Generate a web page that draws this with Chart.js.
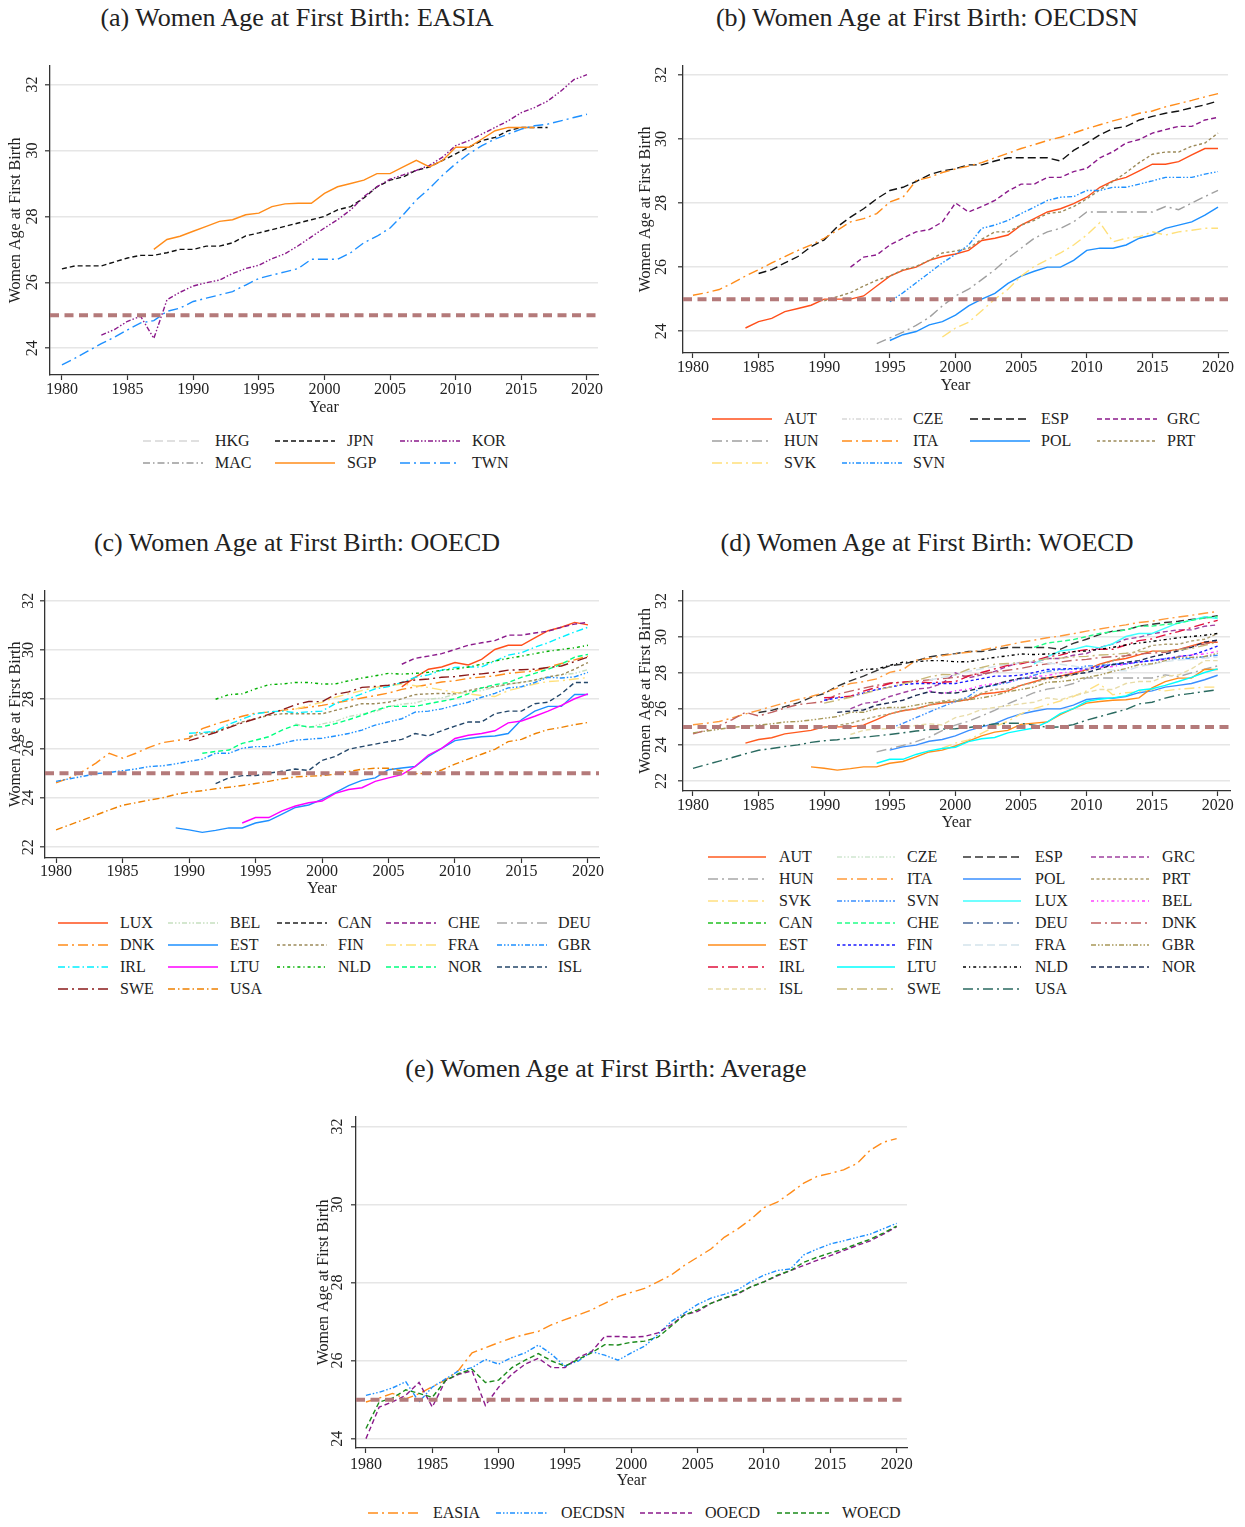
<!DOCTYPE html>
<html>
<head>
<meta charset="utf-8">
<script src="https://cdn.jsdelivr.net/npm/chart.js@4.4.0/dist/chart.umd.min.js"></script>
<style>
  body { margin: 0; background: #fff; width: 1245px; height: 1527px; position: relative; overflow: hidden;
         font-family: "Liberation Serif", "DejaVu Serif", serif; color: #222; }
  .ttl { position: absolute; font-size: 26px; line-height: 30px; white-space: nowrap; transform: translateX(-50%); }
  canvas { position: absolute; }
  .lgs { position: absolute; }
  .lgt { position: absolute; font-size: 16px; line-height: 18px; white-space: nowrap; }
</style>
</head>
<body>
<div class="ttl" style="left:297px;top:3px">(a) Women Age at First Birth: EASIA</div>
<div class="ttl" style="left:927px;top:3px">(b) Women Age at First Birth: OECDSN</div>
<div class="ttl" style="left:297px;top:528px">(c) Women Age at First Birth: OOECD</div>
<div class="ttl" style="left:927px;top:528px">(d) Women Age at First Birth: WOECD</div>
<div class="ttl" style="left:606px;top:1054px">(e) Women Age at First Birth: Average</div>

<script>
const _ = null;
const years = [1980,1981,1982,1983,1984,1985,1986,1987,1988,1989,1990,1991,1992,1993,1994,1995,1996,1997,1998,1999,
               2000,2001,2002,2003,2004,2005,2006,2007,2008,2009,2010,2011,2012,2013,2014,2015,2016,2017,2018,2019,2020];
const xTicks = [1980,1985,1990,1995,2000,2005,2010,2015,2020];
const yTicks = [24,26,28,30,32];
const yTicksWide = [22,24,26,28,30,32];
const refAge = 25;

// (a) East Asia
const hkg = [];
const mac = [];
const jpn = [26.41,26.5,26.5,26.5,26.62,26.74,26.82,26.82,26.9,27.0, 27.0,27.1,27.1,27.2,27.41,27.5,27.6,27.7,27.8,27.9,
             28.0,28.2,28.3,28.56,28.9,29.1,29.2,29.4,29.5,29.7, 29.9,30.1,30.3,30.4,30.6,30.7,30.7,30.7,_,_, _];
const sgp = [_,_,_,_,_,_,_,27.0,27.3,27.4, 27.55,27.7,27.85,27.9,28.05,28.1,28.3,28.38,28.4,28.4,
             28.7,28.9,29.0,29.1,29.3,29.3,29.5,29.7,29.5,29.7, 30.1,30.1,30.35,30.6,30.7,30.7,30.7,_,_,_, _];
const kor = [_,_,_,24.4,24.57,24.82,24.97,24.3,25.47,25.7, 25.89,25.99,26.07,26.27,26.42,26.52,26.72,26.87,27.11,27.38,
             27.65,27.9,28.2,28.6,28.9,29.13,29.26,29.4,29.55,29.8, 30.15,30.3,30.5,30.7,30.9,31.15,31.3,31.5,31.8,32.15, 32.3];
const twn = [23.5,23.7,23.92,24.14,24.34,24.56,24.77,24.84,25.12,25.22, 25.42,25.52,25.62,25.72,25.92,26.12,26.22,26.32,26.42,26.7,
             26.7,26.7,26.9,27.2,27.4,27.65,28.05,28.5,28.85,29.25, 29.6,29.9,30.15,30.35,30.5,30.65,30.75,30.8,30.9,31.0, 31.1];

// (b) OECD south / new
const aut = [_,_,_,_,24.1,24.3,24.4,24.61,24.71,24.81, 25.0,25.0,25.0,25.1,25.41,25.72,25.9,26.0,26.21,26.33,
             26.41,26.52,26.83,26.9,27.0,27.31,27.51,27.72,27.82,27.98, 28.18,28.49,28.69,28.8,29.0,29.21,29.21,29.29,29.5,29.7, 29.7];
const cze = [];
const esp = [_,_,_,_,_,25.8,25.92,26.13,26.33,26.64, 26.85,27.26,27.56,27.82,28.13,28.39,28.49,28.67,28.88,29.0,
             29.07,29.19,29.19,29.31,29.41,29.41,29.41,29.41,29.31,29.64, 29.87,30.13,30.32,30.39,30.59,30.7,30.8,30.87,30.97,31.06, 31.18];
const grc = [_,_,_,_,_,_,_,_,_,_, _,_,26.0,26.31,26.38,26.69,26.9,27.1,27.17,27.41,
             28.0,27.72,27.89,28.08,28.37,28.59,28.59,28.8,28.8,28.98, 29.08,29.41,29.6,29.87,29.98,30.18,30.29,30.39,30.39,30.59, 30.67];
const hun = [_,_,_,_,_,_,_,_,_,_, _,_,_,_,23.61,23.79,23.97,24.18,24.43,24.79,
             25.1,25.31,25.61,25.92,26.28,26.59,26.9,27.1,27.21,27.41, 27.72,27.72,27.72,27.72,27.72,27.72,27.89,27.79,28.0,28.2, 28.39];
const ita = [25.12,25.2,25.3,25.5,25.72,25.92,26.13,26.33,26.52,26.69, 26.9,27.15,27.41,27.51,27.67,28.03,28.18,28.7,28.8,28.95,
             29.06,29.15,29.26,29.41,29.55,29.7,29.82,29.95,30.05,30.18, 30.32,30.44,30.56,30.67,30.8,30.87,31.0,31.1,31.2,31.31, 31.41];
const pol = [_,_,_,_,_,_,_,_,_,_, _,_,_,_,_,23.71,23.89,23.99,24.2,24.3,
             24.5,24.79,25.0,25.18,25.49,25.72,25.87,26.0,26.0,26.21, 26.52,26.59,26.59,26.69,26.9,27.0,27.21,27.31,27.41,27.62, 27.87];
const prt = [_,_,_,_,_,_,_,_,_,_, 24.95,25.08,25.2,25.41,25.59,25.72,25.92,26.02,26.21,26.44,
             26.5,26.59,26.87,27.1,27.1,27.31,27.46,27.67,27.72,27.89, 28.13,28.41,28.67,28.95,29.26,29.52,29.59,29.59,29.77,29.87, 30.18];
const svk = [_,_,_,_,_,_,_,_,_,_, _,_,_,_,_,_,_,_,_,23.82,
             24.1,24.28,24.64,25.0,25.31,25.72,26.02,26.23,26.44,26.69, 27.0,27.39,26.79,26.9,26.95,27.1,27.0,27.1,27.15,27.21, 27.21];
const svn = [_,_,_,_,_,_,_,_,_,_, _,_,_,_,_,24.92,25.2,25.51,25.82,26.13,
             26.4,26.69,27.21,27.31,27.46,27.67,27.87,28.08,28.18,28.2, 28.39,28.39,28.49,28.49,28.59,28.69,28.8,28.8,28.8,28.9, 28.98];

// (c) other OECD
const lux = [_,_,_,_,_,_,_,_,_,_, _,_,_,_,_,_,_,_,_,_,
             _,_,_,_,_,_,28.5,28.89,29.22,29.31, 29.49,29.39,29.62,30.02,30.19,30.19,30.49,30.78,30.92,31.12, 31.02];
const bel = [_,_,_,_,_,_,_,_,_,_, _,_,_,_,_,_,_,_,27.0,26.85,
             27.0,27.1,27.3,27.4,27.5,27.7,27.8,27.85,28.0,28.05, 28.2,28.3,28.35,28.5,28.6,28.7,28.75,28.9,29.0,29.05, 29.2];
const can = [];
const che = [_,_,_,_,_,_,_,_,_,_, _,_,_,_,_,_,_,_,_,_,
             _,_,_,_,_,_,29.42,29.66,29.75,29.85, 30.02,30.19,30.29,30.38,30.6,30.6,30.69,30.76,30.92,31.05, 31.12];
const deu = [];
const dnk = [24.61,24.81,25.07,25.41,25.81,25.61,25.81,26.05,26.24,26.32, 26.41,26.81,26.99,27.15,27.31,27.44,27.48,27.55,27.61,27.68,
             27.75,27.85,27.95,28.05,28.15,28.25,28.4,28.5,28.6,28.7, 28.75,28.85,28.9,28.95,29.05,29.1,29.15,29.3,29.45,29.6, 29.75];
const est = [_,_,_,_,_,_,_,_,_,22.78, 22.7,22.6,22.68,22.78,22.78,22.98,23.08,23.34,23.61,23.71,
             23.94,24.21,24.5,24.71,24.81,25.14,25.21,25.27,25.68,26.01, 26.32,26.41,26.48,26.51,26.61,27.17,27.52,27.71,27.71,28.19, 28.19];
const fin = [_,_,_,_,_,_,_,_,_,_, 26.48,26.61,26.68,26.88,27.08,27.21,27.35,27.41,27.41,27.41,
             27.41,27.55,27.68,27.82,27.82,27.88,28.02,28.19,28.22,28.24, 28.22,28.35,28.46,28.51,28.62,28.68,28.78,28.91,28.99,29.22, 29.49];
const fra = [_,_,_,_,_,_,_,_,_,_, _,_,_,_,_,_,_,_,27.6,27.75,
             27.88,28.08,28.22,28.35,28.48,28.55,28.62,28.55,28.48,28.38, 28.28,28.22,28.15,28.11,28.35,28.48,28.62,28.72,28.75,28.82, 28.88];
const gbr = [24.67,24.77,24.87,24.98,25.03,25.1,25.17,25.27,25.3,25.38, 25.48,25.57,25.81,25.81,26.01,26.08,26.08,26.21,26.34,26.38,
             26.42,26.51,26.61,26.75,26.95,27.08,27.21,27.48,27.52,27.61, 27.75,27.88,28.08,28.24,28.46,28.51,28.68,28.89,28.86,28.91, 29.09];
const irl = [_,_,_,_,_,_,_,_,_,_, 26.62,26.65,26.7,26.99,27.19,27.41,27.49,27.52,27.45,27.49,
             27.52,27.82,28.02,28.22,28.42,28.51,28.68,28.89,28.99,29.18, 29.29,29.31,29.31,29.55,29.79,29.89,30.11,30.29,30.52,30.73, 30.92];
const ltu = [_,_,_,_,_,_,_,_,_,_, _,_,_,_,22.98,23.2,23.2,23.47,23.67,23.8,
             23.87,24.18,24.34,24.41,24.67,24.81,24.94,25.27,25.74,26.01, 26.41,26.54,26.61,26.72,27.04,27.12,27.31,27.52,27.75,28.02, 28.22];
const nld = [_,_,_,_,_,_,_,_,_,_, _,_,28.0,28.19,28.22,28.42,28.59,28.62,28.68,28.68,
             28.62,28.62,28.75,28.86,28.95,29.05,29.02,29.05,29.09,29.18, 29.22,29.31,29.42,29.55,29.66,29.75,29.85,29.95,30.02,30.09, 30.19];
const nor = [_,_,_,_,_,_,_,_,_,_, _,25.81,25.88,25.94,26.21,26.34,26.48,26.75,26.95,26.88,
             26.88,27.01,27.17,27.35,27.55,27.71,27.71,27.71,27.82,27.92, 28.02,28.22,28.46,28.59,28.68,28.89,29.05,29.22,29.42,29.71, 29.82];
const isl = [_,_,_,_,_,_,_,_,_,_, _,_,24.58,24.81,24.9,24.9,25.0,25.08,25.17,25.11,
             25.52,25.68,25.97,26.08,26.18,26.28,26.37,26.61,26.51,26.72, 26.91,27.08,27.08,27.41,27.52,27.52,27.82,27.88,28.22,28.68, 28.68];
const swe = [_,_,_,_,_,_,_,_,_,_, 26.32,26.48,26.65,26.85,27.04,27.21,27.39,27.57,27.78,27.91,
             27.9,28.2,28.3,28.48,28.52,28.57,28.68,28.78,28.82,28.89, 28.92,28.99,29.03,29.09,29.18,29.2,29.22,29.29,29.35,29.53, 29.71];
const usa = [22.7,22.9,23.1,23.3,23.51,23.7,23.8,23.91,24.0,24.14, 24.23,24.29,24.37,24.43,24.5,24.58,24.67,24.77,24.85,24.88,
             24.9,24.96,25.07,25.16,25.2,25.2,25.1,24.98,25.0,25.13, 25.37,25.57,25.77,25.97,26.28,26.37,26.6,26.77,26.86,26.97, 27.06];

// (e) group averages
const avgEasia  = [24.94,25.04,25.16,25.02,25.15,25.33,25.5,25.76,26.2,26.33, 26.46,26.58,26.67,26.75,26.92,27.05,27.17,27.3,27.47,27.64,
                   27.75,27.85,28.02,28.19,28.44,28.65,28.86,29.16,29.37,29.62, 29.92,30.06,30.3,30.55,30.72,30.8,30.89,31.05,31.39,31.6, 31.69];
const avgOecdsn = [25.11,25.19,25.3,25.46,24.94,25.32,25.53,25.74,25.82,26.03, 25.91,26.08,26.2,26.4,26.16,25.86,25.99,26.23,26.14,26.01,
                   26.2,26.37,26.67,27.0,27.22,27.44,27.6,27.7,27.81,28.02, 28.19,28.31,28.35,28.71,28.86,28.99,29.07,29.16,29.24,29.38, 29.52];
const avgOoecd  = [24.0,24.81,24.94,25.11,25.44,24.81,25.49,25.65,25.74,24.85, 25.32,25.65,25.91,26.06,25.82,25.82,26.08,26.23,26.62,26.62,
                   26.6,26.62,26.71,26.92,27.17,27.26,27.47,27.6,27.7,27.89, 28.02,28.17,28.31,28.44,28.57,28.69,28.82,28.95,29.07,29.24, 29.43];
const avgWoecd  = [24.26,24.94,25.04,25.25,25.16,25.06,25.49,25.67,25.78,25.44, 25.5,25.82,26.01,26.18,25.99,25.86,26.03,26.2,26.41,26.4,
                   26.47,26.5,26.6,26.88,27.17,27.3,27.47,27.6,27.72,27.89, 28.02,28.19,28.31,28.52,28.65,28.76,28.86,28.99,29.11,29.27, 29.45];

// line patterns
const DASH = {
  solid: [], dash: [5, 3], longdash: [8, 4], shortdash: [3, 2.5],
  dashdot: [7, 3, 1.5, 3], longdashdot: [10, 4, 2, 4], dashdotdot: [5, 2, 1.5, 2, 1.5, 2], dotdash: [3, 3, 1.2, 3]
};

const panels = [
  { L: 50, T: 62, R: 598, B: 375, xMin: 1979.09, xMax: 2020.84, yMin: 23.19, yMax: 32.57, yT: yTicks,
    yTickX: 33, yTitleX: 16, xTickY: 390, xTitleY: 408,
    legend: { sx: [143, 275, 400], tx: [215, 347, 472], rows: [441, 463], sw: 60 },
    series: [
      ['HKG', hkg, '#d6d6d6', 'longdash'], ['JPN', jpn, '#111111', 'dash'], ['KOR', kor, '#8b1a8b', 'dashdotdot'],
      ['MAC', mac, '#9a9a9a', 'dashdot'], ['SGP', sgp, '#ff8c1a', 'solid'], ['TWN', twn, '#1e90ff', 'longdashdot']
    ] },
  { L: 683, T: 62, R: 1228, B: 353, xMin: 1979.24, xMax: 2020.76, yMin: 23.32, yMax: 32.28, yT: yTicks,
    yTickX: 662, yTitleX: 646, xTickY: 368, xTitleY: 386,
    legend: { sx: [712, 842, 970, 1097], tx: [784, 913, 1041, 1167], rows: [419, 441, 463], sw: 60 },
    series: [
      ['AUT', aut, '#ff4f1a', 'solid'], ['CZE', cze, '#d8d8d8', 'dashdotdot'], ['ESP', esp, '#111111', 'longdash'],
      ['GRC', grc, '#8b1a8b', 'dash'], ['HUN', hun, '#a0a0a0', 'longdashdot'], ['ITA', ita, '#ff8c1a', 'longdashdot'],
      ['POL', pol, '#1e90ff', 'solid'], ['PRT', prt, '#9c8a5a', 'shortdash'], ['SVK', svk, '#ffe07a', 'longdashdot'],
      ['SVN', svn, '#1e90ff', 'dashdotdot']
    ] },
  { L: 45, T: 587, R: 599, B: 858, xMin: 1979.17, xMax: 2020.83, yMin: 21.56, yMax: 32.4, yT: yTicksWide,
    yTickX: 29, yTitleX: 16, xTickY: 872, xTitleY: 889,
    legend: { sx: [58, 168, 277, 386, 497], tx: [120, 230, 338, 448, 558], rows: [923, 945, 967, 989], sw: 50 },
    series: [
      ['LUX', lux, '#ff4f1a', 'solid'], ['BEL', bel, '#c6dfc0', 'dashdotdot'], ['CAN', can, '#222222', 'dash'],
      ['CHE', che, '#8b1a8b', 'dash'], ['DEU', deu, '#a8a8a8', 'longdashdot'], ['DNK', dnk, '#ff8c1a', 'longdashdot'],
      ['EST', est, '#1e90ff', 'solid'], ['FIN', fin, '#9c8a5a', 'shortdash'], ['FRA', fra, '#ffe07a', 'longdashdot'],
      ['GBR', gbr, '#1e90ff', 'dashdotdot'], ['IRL', irl, '#00f0ff', 'dashdot'], ['LTU', ltu, '#ff00ff', 'solid'],
      ['NLD', nld, '#00b000', 'dotdash'], ['NOR', nor, '#00ff7f', 'dash'], ['ISL', isl, '#24476a', 'dash'],
      ['SWE', swe, '#8b1a1a', 'longdashdot'], ['USA', usa, '#ee8000', 'dashdot']
    ] },
  { L: 683, T: 587, R: 1230, B: 791, xMin: 1979.24, xMax: 2020.94, yMin: 21.44, yMax: 32.56, yT: yTicksWide,
    yTickX: 662, yTitleX: 646, xTickY: 806, xTitleY: 823,
    legend: { sx: [708, 837, 963, 1091], tx: [779, 907, 1035, 1162], rows: [857, 879, 901, 923, 945, 967, 989], sw: 58 },
    series: [
      ['AUT', aut, '#ff5a1f', 'solid'], ['CZE', cze, '#cfe6cf', 'dashdotdot'], ['ESP', esp, '#333333', 'longdash'],
      ['GRC', grc, '#a040a0', 'dash'], ['HUN', hun, '#a8a8a8', 'longdashdot'], ['ITA', ita, '#ff9a3a', 'longdashdot'],
      ['POL', pol, '#3a8fff', 'solid'], ['PRT', prt, '#b0a070', 'shortdash'], ['SVK', svk, '#ffe080', 'longdashdot'],
      ['SVN', svn, '#3a8fff', 'dashdotdot'], ['LUX', lux, '#40ffff', 'solid'], ['BEL', bel, '#ff40ff', 'dotdash'],
      ['CAN', can, '#22c022', 'dash'], ['CHE', che, '#22ff88', 'dash'], ['DEU', deu, '#4a6a9a', 'longdashdot'],
      ['DNK', dnk, '#c06060', 'longdashdot'], ['EST', est, '#ff8c1a', 'solid'], ['FIN', fin, '#1a1aff', 'shortdash'],
      ['FRA', fra, '#d4e4ec', 'longdash'], ['GBR', gbr, '#a89858', 'dashdotdot'], ['IRL', irl, '#e0103c', 'longdashdot'],
      ['LTU', ltu, '#00ffff', 'solid'], ['NLD', nld, '#000000', 'dotdash'], ['NOR', nor, '#1a2a50', 'dash'],
      ['ISL', isl, '#e8dca8', 'dash'], ['SWE', swe, '#c8b878', 'longdashdot'], ['USA', usa, '#2a6a60', 'longdashdot']
    ] },
  { L: 356, T: 1113, R: 907, B: 1448, xMin: 1979.25, xMax: 2020.78, yMin: 23.76, yMax: 32.25, yT: yTicks,
    yTickX: 338, yTitleX: 324, xTickY: 1465, xTitleY: 1481,
    legend: { sx: [368, 496, 640, 777], tx: [433, 561, 705, 842], rows: [1513], sw: 52 },
    series: [
      ['EASIA', avgEasia, '#ff8c1a', 'longdashdot'], ['OECDSN', avgOecdsn, '#1e90ff', 'dashdotdot'],
      ['OOECD', avgOoecd, '#8b1a8b', 'dash'], ['WOECD', avgWoecd, '#1a8a1a', 'dash']
    ] }
];

const FONT = '16px "Liberation Serif", "DejaVu Serif", serif';
const Y_W = 45, PAD_T = 4, PAD_R = 20, X_H = 50;

const stataPlugin = {
  id: 'stata',
  afterDatasetsDraw(chart) {
    const { ctx, chartArea, scales: { y } } = chart;
    const py = y.getPixelForValue(refAge);
    ctx.save();
    ctx.strokeStyle = '#b47a7a';
    ctx.lineWidth = 4;
    ctx.setLineDash([9, 5.5]);
    ctx.beginPath();
    ctx.moveTo(chartArea.left, py);
    ctx.lineTo(chartArea.right, py);
    ctx.stroke();
    ctx.restore();
  },
  afterDraw(chart) {
    const p = chart.options.plugins.stata;
    const { ctx, chartArea, scales: { x, y } } = chart;
    ctx.save();
    ctx.fillStyle = '#222';
    ctx.font = FONT;
    ctx.textAlign = 'center';
    ctx.textBaseline = 'middle';
    p.yT.forEach(v => {
      ctx.save();
      ctx.translate(p.yTickX - p.ox, y.getPixelForValue(v));
      ctx.rotate(-Math.PI / 2);
      ctx.fillText(String(v), 0, 0);
      ctx.restore();
    });
    ctx.save();
    ctx.translate(p.yTitleX - p.ox, (chartArea.top + chartArea.bottom) / 2);
    ctx.rotate(-Math.PI / 2);
    ctx.fillText('Women Age at First Birth', 0, 0);
    ctx.restore();
    xTicks.forEach(v => ctx.fillText(String(v), x.getPixelForValue(v), p.xTickY - p.oy));
    ctx.fillText('Year', (chartArea.left + chartArea.right) / 2, p.xTitleY - p.oy);
    ctx.restore();
  }
};

function addLegend(pn) {
  const lg = pn.legend;
  pn.series.forEach((s, i) => {
    const col = i % lg.sx.length, row = Math.floor(i / lg.sx.length);
    const yy = lg.rows[row];
    const svg = document.createElementNS('http://www.w3.org/2000/svg', 'svg');
    svg.setAttribute('class', 'lgs');
    svg.setAttribute('width', lg.sw);
    svg.setAttribute('height', 6);
    svg.style.left = lg.sx[col] + 'px';
    svg.style.top = (yy - 3) + 'px';
    const ln = document.createElementNS('http://www.w3.org/2000/svg', 'line');
    ln.setAttribute('x1', 0); ln.setAttribute('y1', 3);
    ln.setAttribute('x2', lg.sw); ln.setAttribute('y2', 3);
    ln.setAttribute('stroke', s[2]);
    ln.setAttribute('stroke-width', 1.6);
    if (DASH[s[3]].length) ln.setAttribute('stroke-dasharray', DASH[s[3]].join(' '));
    svg.appendChild(ln);
    document.body.appendChild(svg);
    const t = document.createElement('div');
    t.className = 'lgt';
    t.textContent = s[0];
    t.style.left = lg.tx[col] + 'px';
    t.style.top = (yy - 9) + 'px';
    document.body.appendChild(t);
  });
}

panels.forEach(pn => {
  const cv = document.createElement('canvas');
  const left = pn.L - Y_W, top = pn.T - PAD_T;
  const w = pn.R - pn.L + Y_W + PAD_R, h = pn.B - pn.T + PAD_T + X_H;
  cv.style.left = left + 'px';
  cv.style.top = top + 'px';
  cv.style.width = w + 'px';
  cv.style.height = h + 'px';
  cv.width = w; cv.height = h;
  document.body.appendChild(cv);

  const datasets = pn.series.map((s, i) => ({
    label: s[0],
    data: years.map((yr, k) => ({ x: yr, y: s[1].length ? s[1][k] : null })),
    borderColor: s[2],
    borderWidth: 1.4,
    borderDash: DASH[s[3]],
    pointRadius: 0,
    fill: false,
    tension: 0,
    spanGaps: false,
    order: -i
  }));

  new Chart(cv, {
    type: 'line',
    data: { datasets },
    options: {
      responsive: false,
      animation: false,
      layout: { padding: { left: 0, top: PAD_T, right: PAD_R, bottom: 0 } },
      plugins: {
        legend: { display: false },
        tooltip: { enabled: false },
        stata: { ox: left, oy: top, yT: pn.yT, yTickX: pn.yTickX, yTitleX: pn.yTitleX, xTickY: pn.xTickY, xTitleY: pn.xTitleY }
      },
      scales: {
        x: {
          type: 'linear', min: pn.xMin, max: pn.xMax,
          afterBuildTicks: sc => { sc.ticks = xTicks.map(v => ({ value: v })); },
          afterFit: sc => { sc.height = X_H; },
          ticks: { color: 'rgba(0,0,0,0)', font: { size: 8 }, autoSkip: false, maxRotation: 0 },
          grid: { drawOnChartArea: false, drawTicks: true, tickLength: 5, tickColor: '#333', tickWidth: 1.2 },
          border: { display: true, color: '#333', width: 1.3 }
        },
        y: {
          type: 'linear', min: pn.yMin, max: pn.yMax,
          afterBuildTicks: sc => { sc.ticks = pn.yT.map(v => ({ value: v })); },
          afterFit: sc => { sc.width = Y_W; },
          ticks: { color: 'rgba(0,0,0,0)', font: { size: 8 } },
          grid: { color: '#e6e6e6', lineWidth: 1.6, drawTicks: true, tickLength: 5, tickColor: '#333', tickWidth: 1.2 },
          border: { display: true, color: '#333', width: 1.3 }
        }
      }
    },
    plugins: [stataPlugin]
  });
  addLegend(pn);
});
</script>
</body>
</html>
